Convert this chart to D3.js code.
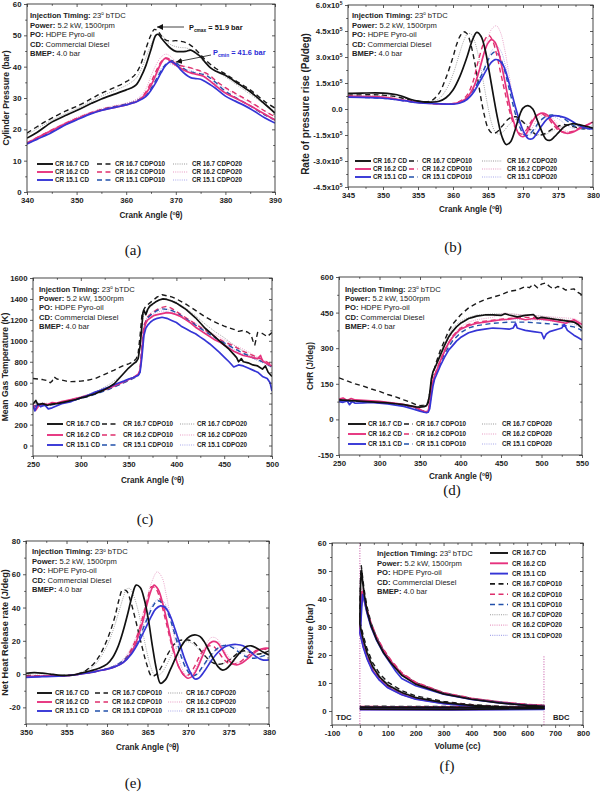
<!DOCTYPE html>
<html><head><meta charset="utf-8">
<script src="https://cdn.jsdelivr.net/npm/d3@7"></script>
<style>body{margin:0;background:#fff}svg{display:block}</style>
</head><body><svg id="c" width="600" height="794"></svg>
<script>
// ---------------- DATA ----------------
const crLabels = ["CR 16.7","CR 16.2","CR 15.1"];
const fuelLabels = ["CD","CDPO10","CDPO20"];
const infoBold = ["Injection Timing:","Power:","PO:","CD:","BMEP:"];
const infoRest = [" 23"," 5.2 kW, 1500rpm"," HDPE Pyro-oil"," Commercial Diesel"," 4.0 bar"];

// (a) cylinder pressure vs crank angle
const aXTicks = [340,350,360,370,380,390];
const aYTicks = [0,10,20,30,40,50,60];
const a_167cd = [[340,17.2],[342,19],[345,22.3],[348,24.6],[350,26],[353,28.3],[355,29.7],[358,31.4],[360,32.6],[361,33.2],[362,34.2],[363,36.8],[364,40.5],[365,45.5],[366,50.1],[366.5,50.3],[367,49.3],[368,47.4],[369,45.8],[370,44.9],[371,44.8],[372,44.9],[373,45.3],[374,44.4],[375,43.2],[376,41.3],[377,39.6],[378,38.6],[380,37.3],[382,35.2],[385,32],[388,28],[390,25.2]];
const a_167p10 = [[340,18.8],[343,21.8],[345,23.6],[348,26],[350,27.3],[353,29.8],[355,31.5],[358,33.6],[360,35.2],[361,36.3],[362,37.9],[363,41],[364,45.9],[365,50.1],[365.7,51.9],[366.5,51.2],[367,50],[368,48.5],[369,48.2],[370,48.3],[371,48.1],[372,47.7],[373,46.8],[374,45.5],[375,43.8],[376,42.1],[378,39.5],[380,37.7],[382,35.6],[385,32.6],[388,28.8],[390,26.8]];
const a_167p20 = [[340,18.2],[345,22.9],[350,26.6],[355,30.6],[358,32.6],[360,34],[361,35],[362,36.3],[363,39],[364,43],[365,47],[366,50],[366.7,50.4],[367.5,49.5],[368,48.3],[369,47],[370,46.4],[371,46.1],[372,46],[373,45.4],[374,44.2],[375,42.6],[376,41],[378,38.7],[380,36.7],[385,31.2],[390,25.6]];
const a_162cd = [[340,15.4],[342,17.2],[345,19.6],[348,22],[350,23.3],[353,25.2],[355,26.1],[358,27.1],[360,27.8],[362,28.8],[363,29.8],[364,31.5],[365,34],[366,37.5],[367,41],[367.8,42.6],[368.5,42.3],[369.5,41],[370.5,40],[372,38.6],[373,38],[374,37.6],[375.5,37],[377,35.3],[378,34],[380,31.6],[382,30],[385,27.5],[388,24.8],[390,23]];
const a_162p10 = [[340,15.7],[345,19.8],[350,23.5],[355,26.4],[358,27.4],[360,28],[362,29],[363,30],[364,32],[365,35],[366,38.5],[367,41.5],[368,42.8],[369,42.2],[370,41],[371,40.3],[372,40],[373,39.6],[374,39.1],[375,38.6],[376,38],[377,37],[378,35.6],[380,33.3],[382,31.5],[385,28.8],[388,25.8],[390,24]];
const a_162p20 = [[340,15.9],[345,20],[350,23.8],[355,26.6],[360,28.4],[362,29.6],[363,30.8],[364,33],[365,37],[366,40.5],[367,43],[368,44],[369,43.2],[370,41.6],[371,40.6],[372,40],[373,39.5],[374,39.1],[375,38.5],[376,37.6],[378,35.2],[380,33],[385,28.5],[390,24]];
const a_151cd = [[340,15.3],[342,16.8],[345,19],[348,21.6],[350,23],[353,25],[355,26],[358,27.1],[360,27.8],[362,28.7],[363,29.5],[364,30.5],[365,32.5],[366,35],[367,38],[368,40.5],[369,41.6],[370,40.8],[371,39],[372,37.5],[373,36.5],[374,36.2],[375,36],[376,35.2],[377,34.2],[378,33.1],[380,30.6],[382,29],[385,26.6],[388,23.6],[390,22]];
const a_151p10 = [[340,15.5],[345,19.3],[350,23.2],[355,26.2],[360,28],[362,29],[363,29.8],[364,30.8],[365,33],[366,35.8],[367,38.6],[368,40.8],[369,42],[370,41.3],[371,40],[372,39],[373,38.3],[374,38],[375,37.7],[376,37.3],[377,36.3],[378,35],[380,32.2],[382,30.2],[385,27.5],[388,24.5],[390,23]];
const a_151p20 = [[340,15.6],[345,19.5],[350,23.4],[355,26.3],[360,28.2],[362,29.3],[363,30.3],[364,31.5],[365,33.8],[366,36.7],[367,39.3],[367.8,40.6],[368.5,41],[369.5,40.5],[370.5,39.8],[371.5,39.3],[373,38.8],[374,38.2],[375,37.2],[376,36.3],[378,34.5],[380,32],[385,27.5],[390,23.1]];

// (b) rate of pressure rise, in units of 1e5 Pa/deg
const bXTicks = [345,350,355,360,365,370,375,380];
const bYTicks = [-4.5,-3.0,-1.5,0,1.5,3.0,4.5,6.0];
const b_167cd = [[345,0.9],[347,0.92],[350,0.92],[352,0.82],[354,0.55],[355,0.45],[356,0.4],[357,0.4],[358,0.45],[359,0.65],[360,1.1],[361,1.9],[362,3.0],[362.8,4.0],[363.4,4.42],[364,4.2],[364.6,3.4],[365.2,2.1],[365.8,0.7],[366.4,-0.6],[367,-1.6],[367.6,-2.05],[368.2,-1.9],[368.8,-1.3],[369.4,-0.5],[370,0.05],[370.7,0.2],[371.4,0.0],[372,-0.6],[372.7,-1.3],[373.3,-1.75],[373.9,-1.8],[374.5,-1.6],[375.2,-1.3],[376,-1.0],[377,-0.85],[378,-0.9],[379,-1.0],[380,-1.1]];
const b_167p10 = [[345,0.8],[348,0.82],[350,0.8],[352,0.7],[354,0.5],[355,0.45],[356,0.42],[357,0.5],[358,0.9],[359,1.8],[360,3.0],[360.5,3.7],[361,4.2],[361.5,4.45],[362,4.35],[362.5,3.8],[363,2.9],[363.5,1.8],[364,0.6],[364.5,-0.4],[365,-1.1],[365.6,-1.4],[366.2,-1.35],[367,-1.0],[368,-0.55],[369,-0.45],[370,-0.75],[371,-1.2],[372,-1.5],[373,-1.45],[374,-1.2],[375,-1.0],[376,-0.9],[377,-1.0],[378,-1.1],[379,-1.15],[380,-1.1]];
const b_167p20 = [[345,0.8],[350,0.78],[353,0.62],[355,0.45],[357,0.45],[358,0.6],[359,1.1],[360,2.0],[361,3.3],[361.5,3.9],[362,4.3],[362.5,4.35],[363,4.0],[363.5,3.3],[364,2.3],[364.5,1.2],[365,0.1],[365.5,-0.8],[366,-1.3],[366.5,-1.45],[367.2,-1.3],[368,-0.9],[369,-0.6],[370,-0.7],[371,-1.1],[372,-1.45],[373,-1.5],[374,-1.3],[376,-0.95],[378,-1.0],[380,-1.1]];
const b_162cd = [[345,0.75],[348,0.72],[350,0.68],[353,0.5],[355,0.38],[357,0.32],[359,0.28],[360,0.3],[361,0.4],[362,0.65],[363,1.3],[363.8,2.3],[364.5,3.3],[365,3.8],[365.5,4.0],[366,3.85],[366.5,3.3],[367,2.4],[367.5,1.4],[368,0.4],[368.5,-0.5],[369,-1.1],[369.5,-1.5],[370,-1.6],[370.5,-1.4],[371,-1.0],[371.7,-0.5],[372.5,-0.25],[373.3,-0.3],[374,-0.6],[374.8,-1.0],[375.5,-1.3],[376.2,-1.4],[377,-1.35],[378,-1.15],[379,-0.95],[380,-0.75]];
const b_162p10 = [[345,0.72],[350,0.65],[355,0.38],[358,0.3],[360,0.32],[361,0.45],[362,0.8],[362.8,1.5],[363.5,2.6],[364.2,3.6],[364.7,4.1],[365.1,4.25],[365.6,4.0],[366.2,3.2],[366.8,2.1],[367.4,1.0],[368,0.0],[368.6,-0.8],[369.2,-1.3],[369.8,-1.45],[370.5,-1.2],[371.2,-0.7],[372,-0.35],[372.8,-0.3],[373.5,-0.5],[374.3,-0.9],[375,-1.2],[376,-1.35],[377,-1.3],[378,-1.1],[379,-0.95],[380,-0.8]];
const b_162p20 = [[345,0.72],[350,0.65],[355,0.38],[358,0.3],[360,0.32],[361,0.42],[362,0.7],[363,1.4],[364,2.6],[364.8,3.8],[365.5,4.6],[366.2,4.8],[366.8,4.4],[367.4,3.4],[368,2.0],[368.6,0.6],[369.2,-0.6],[369.8,-1.3],[370.5,-1.45],[371.3,-1.1],[372,-0.6],[373,-0.3],[374,-0.45],[375,-0.9],[376,-1.25],[377,-1.3],[378,-1.15],[380,-0.8]];
const b_151cd = [[345,0.68],[348,0.66],[350,0.62],[353,0.48],[355,0.37],[357,0.32],[360,0.28],[361,0.35],[362,0.55],[363,1.0],[364,1.7],[365,2.4],[365.5,2.7],[366,2.85],[366.6,2.8],[367.2,2.5],[367.8,1.8],[368.4,0.9],[369,0.0],[369.6,-0.8],[370.2,-1.4],[370.8,-1.72],[371.4,-1.7],[372,-1.4],[372.7,-0.95],[373.4,-0.6],[374.2,-0.4],[375,-0.4],[376,-0.5],[377,-0.7],[378,-0.95],[379,-1.1],[380,-1.15]];
const b_151p10 = [[345,0.68],[350,0.62],[355,0.37],[360,0.3],[361,0.38],[362,0.65],[363,1.15],[364,1.9],[365,2.8],[365.5,3.15],[366,3.3],[366.5,3.15],[367.1,2.6],[367.7,1.7],[368.3,0.7],[369,-0.4],[369.6,-1.1],[370.2,-1.5],[370.8,-1.5],[371.5,-1.2],[372.2,-0.8],[373,-0.5],[374,-0.35],[375,-0.4],[376,-0.6],[377,-0.9],[378,-1.1],[379,-1.15],[380,-1.1]];
const b_151p20 = [[345,0.7],[350,0.63],[355,0.38],[360,0.3],[361,0.38],[362,0.6],[363,1.1],[364,1.9],[365,2.9],[365.7,3.45],[366.3,3.6],[366.9,3.3],[367.5,2.5],[368.1,1.4],[368.8,0.2],[369.5,-0.8],[370.2,-1.35],[371,-1.5],[371.8,-1.15],[372.6,-0.7],[373.5,-0.45],[374.5,-0.45],[375.5,-0.7],[376.5,-1.0],[377.5,-1.15],[378.5,-1.1],[380,-0.95]];

// (c) mean gas temperature
const cXTicks = [250,300,350,400,450,500];
const cYTicks = [0,200,400,600,800,1000,1200,1400,1600];
const c_167cd = [[250,395],[253,430],[255,390],[260,400],[265,385],[270,395],[275,400],[280,410],[285,420],[290,430],[295,440],[300,455],[305,465],[310,480],[315,495],[320,515],[325,535],[330,560],[335,590],[340,640],[345,690],[350,740],[355,780],[358,800],[360,830],[362,950],[364,1150],[365,1270],[366,1290],[368,1250],[370,1300],[372,1330],[375,1350],[378,1370],[382,1390],[386,1400],[390,1395],[395,1380],[400,1360],[405,1330],[410,1300],[415,1260],[420,1220],[425,1170],[430,1120],[435,1080],[440,1040],[445,1000],[450,960],[455,920],[460,870],[463,840],[465,800],[468,830],[470,800],[475,790],[480,770],[485,760],[490,730],[493,760],[496,700],[500,660]];
const c_167p10 = [[250,640],[255,635],[260,630],[265,620],[268,600],[270,615],[272,655],[275,635],[280,625],[285,615],[290,610],[295,612],[300,615],[305,620],[310,630],[315,640],[320,660],[325,680],[330,700],[335,720],[340,745],[345,765],[350,780],[355,800],[358,830],[360,880],[362,1050],[364,1250],[366,1300],[368,1330],[372,1360],[376,1390],[380,1420],[385,1440],[390,1430],[395,1420],[400,1400],[410,1350],[420,1290],[430,1230],[440,1180],[450,1140],[460,1110],[465,1090],[470,1100],[475,1080],[478,1060],[480,1000],[482,960],[485,1080],[490,1070],[495,1040],[500,1080]];
const c_167p20 = [[250,400],[260,405],[270,400],[280,415],[290,440],[300,465],[310,495],[320,535],[330,585],[340,650],[350,740],[355,790],[360,830],[362,950],[364,1150],[366,1270],[370,1300],[375,1340],[380,1380],[385,1400],[390,1400],[400,1370],[410,1310],[420,1240],[430,1160],[440,1090],[450,1030],[460,960],[470,900],[480,840],[490,800],[500,760]];
const c_162cd = [[250,390],[253,340],[256,380],[260,400],[265,390],[270,410],[275,405],[280,420],[285,430],[290,440],[295,450],[300,460],[305,475],[310,485],[315,505],[320,520],[325,535],[330,550],[335,570],[340,590],[345,610],[350,630],[355,650],[360,680],[362,720],[364,900],[366,1100],[368,1170],[370,1200],[373,1220],[376,1240],[380,1250],[385,1260],[390,1270],[395,1265],[400,1250],[405,1230],[410,1200],[415,1170],[420,1130],[425,1100],[430,1070],[435,1040],[440,1010],[445,990],[450,960],[455,930],[460,900],[465,880],[470,860],[475,850],[480,840],[485,830],[488,860],[490,810],[495,780],[500,760]];
const c_162p10 = [[250,380],[260,385],[270,395],[280,410],[290,430],[300,455],[310,480],[320,510],[330,545],[340,585],[350,625],[360,670],[362,720],[364,950],[366,1150],[370,1230],[375,1270],[380,1300],[385,1320],[390,1330],[395,1310],[400,1280],[410,1220],[420,1160],[430,1100],[440,1040],[450,990],[460,950],[470,900],[480,860],[490,820],[500,770]];
const c_162p20 = [[250,385],[260,395],[270,400],[280,415],[290,435],[300,460],[310,485],[320,515],[330,550],[340,590],[350,630],[360,675],[362,730],[364,960],[366,1160],[370,1240],[375,1280],[380,1300],[385,1310],[390,1300],[395,1290],[400,1270],[410,1220],[420,1170],[430,1110],[440,1060],[450,1010],[460,960],[470,920],[480,870],[490,820],[500,780]];
const c_151cd = [[250,380],[252,330],[255,400],[258,370],[262,390],[266,350],[270,360],[275,380],[280,400],[285,410],[290,420],[295,440],[300,455],[305,470],[310,490],[315,510],[320,525],[325,545],[330,560],[335,580],[340,600],[345,615],[350,635],[355,650],[360,670],[362,700],[364,850],[366,1050],[368,1120],[370,1150],[373,1180],[376,1200],[380,1215],[385,1225],[390,1215],[395,1195],[400,1175],[405,1140],[410,1115],[415,1090],[420,1068],[425,1035],[430,1005],[435,970],[440,930],[445,890],[450,845],[455,800],[460,750],[465,770],[470,760],[475,740],[480,720],[485,700],[490,660],[495,640],[498,600],[500,520]];
const c_151p10 = [[250,375],[260,380],[270,390],[280,405],[290,425],[300,450],[310,475],[320,505],[330,540],[340,580],[350,620],[360,665],[362,710],[364,930],[366,1130],[370,1220],[375,1260],[380,1290],[385,1305],[390,1300],[395,1290],[400,1270],[410,1210],[420,1150],[430,1090],[440,1030],[450,980],[460,930],[470,880],[480,840],[490,800],[500,750]];
const c_151p20 = [[250,380],[260,385],[270,392],[280,408],[290,428],[300,452],[310,478],[320,508],[330,542],[340,582],[350,622],[360,668],[362,715],[364,940],[366,1140],[370,1225],[375,1255],[380,1275],[385,1285],[390,1280],[395,1270],[400,1250],[410,1200],[420,1140],[430,1080],[440,1020],[450,970],[460,920],[470,870],[480,830],[490,790],[500,745]];

// (d) cumulative heat release
const dXTicks = [250,300,350,400,450,500,550];
const dYTicks = [-150,0,150,300,450,600];
const d_167cd = [[250,82],[260,80],[270,78],[280,76],[290,74],[300,72],[310,70],[320,66],[330,62],[340,56],[345,53],[350,52],[355,54],[358,58],[360,70],[362,110],[364,170],[366,200],[368,215],[370,230],[375,270],[380,310],[385,345],[390,370],[395,390],[400,405],[405,415],[410,425],[415,430],[420,435],[430,440],[440,440],[450,438],[455,445],[460,440],[470,432],[480,438],[490,442],[495,425],[500,430],[510,425],[520,420],[530,415],[540,410],[545,400],[550,385]];
const d_167p10 = [[250,175],[260,162],[270,150],[280,140],[290,128],[300,118],[310,105],[320,95],[330,82],[340,70],[345,62],[350,58],[355,60],[358,62],[360,75],[362,110],[365,180],[370,240],[375,290],[380,330],[385,370],[390,400],[395,420],[400,440],[410,470],[420,490],[430,505],[440,515],[450,525],[460,540],[470,545],[480,560],[485,555],[490,570],[495,555],[500,570],[505,575],[510,560],[515,550],[520,560],[525,555],[530,545],[540,550],[545,535],[550,525]];
const d_167p20 = [[250,80],[270,78],[290,74],[310,70],[330,62],[345,55],[355,55],[360,70],[362,105],[365,185],[370,235],[380,320],[390,385],[400,415],[410,430],[420,440],[440,445],[460,445],[480,440],[500,435],[520,425],[540,415],[550,390]];
const d_162cd = [[250,85],[255,90],[260,80],[265,88],[270,82],[280,80],[290,78],[300,76],[310,72],[320,68],[330,62],[340,55],[345,50],[350,42],[355,32],[358,30],[360,35],[362,60],[364,120],[366,160],[368,185],[370,200],[375,245],[380,285],[385,320],[390,345],[395,365],[400,380],[410,395],[420,405],[430,410],[440,415],[450,420],[460,422],[470,428],[480,420],[490,425],[500,422],[510,418],[520,412],[530,405],[540,420],[545,410],[550,400]];
const d_162p10 = [[250,80],[270,78],[290,75],[310,70],[330,62],[345,50],[355,35],[358,32],[360,40],[362,70],[365,150],[370,205],[380,290],[390,350],[400,385],[410,400],[420,410],[440,418],[460,425],[480,430],[500,428],[520,420],[540,412],[550,395]];
const d_162p20 = [[250,82],[270,80],[290,76],[310,71],[330,63],[345,52],[355,36],[358,33],[360,42],[362,75],[365,155],[370,210],[380,295],[390,355],[400,390],[410,410],[420,420],[440,430],[455,450],[460,445],[480,440],[500,435],[520,430],[540,425],[550,410]];
const d_151cd = [[250,75],[255,72],[260,78],[263,62],[266,75],[270,68],[280,70],[290,72],[300,68],[310,65],[320,60],[330,55],[340,45],[345,40],[350,35],[355,30],[358,28],[360,30],[362,45],[364,95],[366,140],[368,170],[370,185],[375,225],[380,260],[385,290],[390,310],[395,330],[400,345],[410,365],[420,375],[430,380],[440,385],[450,383],[460,380],[465,385],[468,405],[470,385],[475,380],[480,375],[490,370],[500,365],[503,340],[506,360],[510,370],[520,380],[525,385],[528,400],[532,375],[540,355],[545,345],[550,335]];
const d_151p10 = [[250,78],[270,76],[290,73],[310,68],[330,60],[345,48],[355,33],[358,30],[360,36],[362,60],[365,140],[370,195],[380,275],[390,330],[400,365],[410,385],[420,395],[440,405],[460,410],[480,410],[500,405],[520,400],[540,390],[550,375]];
const d_151p20 = [[250,80],[270,78],[290,75],[310,70],[330,62],[345,50],[355,34],[358,31],[360,38],[362,65],[365,145],[370,200],[380,282],[390,340],[400,375],[410,395],[420,405],[440,415],[460,420],[480,420],[500,418],[520,412],[540,400],[550,385]];

// (e) net heat release rate
const eXTicks = [350,355,360,365,370,375,380];
const eYTicks = [-20,0,20,40,60,80];
const e_167cd = [[350,0.5],[351,0.9],[352,0.6],[353,0],[354,-0.6],[355,-0.8],[356,-0.4],[357,0.8],[358,2],[359,3.5],[360,6],[360.7,10],[361.4,17],[362,26],[362.6,37],[363.1,47],[363.6,53.5],[364.1,52],[364.6,45],[365.1,33],[365.6,17],[366.1,3],[366.6,-5.5],[367.2,-3.5],[367.8,2.5],[368.5,10],[369.2,17],[369.9,21.5],[370.5,23.3],[371,23.5],[371.5,22.5],[372,19.5],[372.6,14],[373.2,8.5],[373.7,4.5],[374.2,2.5],[374.7,3],[375.3,6],[375.9,10],[376.6,14],[377.2,16.5],[377.8,17],[378.5,15.5],[379.2,13.5],[380,11.5]];
const e_167p10 = [[350,-0.8],[352,-1],[354,-1],[355,-0.8],[356,-0.3],[357,1],[357.5,2.5],[358,4.5],[358.5,7],[359,10.5],[359.5,15],[360,20.5],[360.5,27],[361,35],[361.5,45],[361.9,50.5],[362.4,50],[362.9,44],[363.4,35],[363.9,25],[364.4,15],[364.9,6],[365.5,-1.2],[366,-0.5],[366.5,2.5],[367,7],[367.5,12],[368,16],[368.5,19],[369,20.3],[369.5,20.5],[370,20.5],[370.6,19.5],[371.2,16.5],[372,11.5],[372.6,8.5],[373.2,6.5],[374,6],[374.8,7.5],[375.5,10],[376.3,13],[377,14],[377.8,13],[378.5,12],[379.2,12.5],[380,14]];
const e_167p20 = [[350,-0.5],[353,-0.8],[355,-0.8],[356,0],[357,1.5],[358,3.5],[358.5,5.5],[359,8.5],[359.5,12.5],[360,17],[360.5,23],[361,30],[361.5,38],[362,46],[362.4,51],[362.8,51.5],[363.3,47],[363.8,39],[364.3,28],[364.8,16],[365.3,6],[365.8,0],[366.3,-0.8],[366.8,1],[367.3,5],[367.8,10],[368.3,14.5],[368.8,17.5],[369.3,19],[369.8,19.5],[370.5,18.5],[371.2,15.5],[372,11],[372.8,7.5],[373.6,6],[374.4,6.5],[375.2,9],[376,12],[376.8,13.5],[377.6,13],[378.4,12],[379.2,12.5],[380,13.5]];
const e_162cd = [[350,-1.5],[352,-1.2],[354,-1],[355,-1],[356,-0.5],[357,0.3],[358,1],[359,2],[360,3],[361,4.5],[362,7],[363,13],[363.5,18],[364,25],[364.5,33],[365,43],[365.5,51],[365.8,53.5],[366.3,51],[366.8,44],[367.3,34],[367.8,23],[368.3,13],[368.8,5],[369.4,0],[370,-2.5],[370.6,-1],[371.2,4],[371.8,11],[372.4,17],[373,19.5],[373.6,19],[374.2,15],[374.8,10],[375.4,6.5],[376,5.5],[376.6,6.5],[377.3,9],[378,12],[378.7,14.5],[379.4,15.5],[380,15.5]];
const e_162p10 = [[350,-1.2],[353,-1],[355,-1],[357,0.2],[358,1],[359,2],[360,3],[361,4.5],[362,7.5],[362.8,13],[363.4,19],[364,27],[364.5,36],[365,45],[365.5,52.5],[366,51.5],[366.5,46],[367,37],[367.5,27],[368,17],[368.5,9],[369,3],[369.6,-1],[370.2,0],[370.8,4.5],[371.4,10.5],[372,15],[372.6,17],[373.2,16.5],[373.8,13],[374.4,9],[375,6.5],[375.6,6],[376.3,7],[377,9.5],[377.8,12.5],[378.6,14.5],[379.3,15],[380,14.5]];
const e_162p20 = [[350,-1],[353,-1],[355,-0.8],[357,0.5],[358,1.2],[359,2.2],[360,3.5],[361,5.5],[362,9],[363,16],[363.7,24],[364.3,34],[364.9,45],[365.5,55],[366.2,61.5],[366.8,58],[367.3,48],[367.8,35],[368.3,22],[368.8,11],[369.3,3],[369.9,-1],[370.5,0],[371.1,5],[371.7,12],[372.3,18.5],[372.9,22],[373.5,21.5],[374.1,17.5],[374.8,12],[375.5,8],[376.2,7],[377,8.5],[377.8,11.5],[378.6,14],[379.3,15],[380,15]];
const e_151cd = [[350,-2],[352,-1.5],[354,-1.2],[355,-1],[356,-0.5],[357,0.2],[358,1],[359,2],[360,3],[361,4.5],[362,7],[363,12],[364,20],[364.5,25],[365,30],[365.5,35],[366,39],[366.6,41],[367.2,40],[367.8,35],[368.4,27],[369,18],[369.6,9],[370.2,2],[370.8,-2.8],[371.3,-2.5],[372,1.5],[372.8,7.5],[373.6,12.5],[374.4,16],[375.2,17.5],[376,17.8],[376.8,17],[377.6,14],[378.4,10.5],[379.2,8.5],[380,8.5]];
const e_151p10 = [[350,-1.5],[353,-1.2],[355,-1],[357,0.3],[358,1],[359,2],[360,3.2],[361,5],[362,8],[363,13.5],[364,22],[364.6,29],[365.2,36],[365.7,41],[366.2,44],[366.8,43],[367.4,38],[368,30],[368.6,20],[369.2,10],[369.8,3],[370.5,-1],[371.1,0],[371.8,4.5],[372.6,10],[373.4,14.5],[374.2,17],[375,17],[375.8,15],[376.6,12],[377.4,10],[378.2,9.5],[379,10.5],[380,12]];
const e_151p20 = [[350,-1.2],[353,-1],[355,-0.9],[357,0.3],[358,1.1],[359,2.2],[360,3.4],[361,5.3],[362,8.5],[363,14.5],[364,24],[364.6,31],[365.2,38],[365.8,43],[366.4,45],[367,43.5],[367.6,38],[368.2,29],[368.8,19],[369.4,9],[370,2.5],[370.6,-1],[371.3,0.5],[372,5],[372.8,10.5],[373.6,15],[374.4,17.5],[375.2,17.5],[376,15.5],[376.8,12.5],[377.6,10.5],[378.4,10],[379.2,11],[380,12.5]];

// (f) P-V loops: [volume cc, pressure bar]
const fXTicks = [-100,0,100,200,300,400,500,600,700,800];
const fYTicks = [0,10,20,30,40,50,60];
const f_167cd = [[0,0.7],[330,0.6],[660,0.8],[660,1.0],[500,1.5],[400,2.0],[300,3.0],[200,4.8],[150,6.6],[100,9.3],[70,12.2],[45,16],[25,21],[12,25.5],[4,29],[0,31],[1,40],[3,47],[6,50.3],[10,46],[15,42],[25,36],[40,30.5],[60,25.5],[85,20.8],[110,17.3],[150,12.8],[200,9.6],[300,6.1],[400,4.2],[500,2.9],[600,2.0],[660,1.7],[660,1.4],[330,1.3],[0,1.4]];
const f_167p10 = [[0,1.0],[330,0.9],[660,1.0],[660,1.2],[500,1.7],[400,2.3],[300,3.4],[200,5.4],[150,7.3],[100,10.3],[70,13.4],[45,17.4],[25,22.5],[12,27],[4,30.5],[0,32.5],[1,42],[3,49],[5,51.9],[9,48.5],[15,43.5],[25,37.5],[40,31.5],[60,26.3],[85,21.5],[110,18],[150,13.3],[200,10.1],[300,6.5],[400,4.5],[500,3.2],[600,2.3],[660,2.0],[660,1.7],[330,1.6],[0,1.7]];
const f_167p20 = [[0,0.8],[330,0.7],[660,0.9],[660,1.1],[500,1.6],[400,2.1],[300,3.2],[200,5.1],[150,7],[100,9.8],[70,12.8],[45,16.7],[25,21.8],[12,26.3],[4,29.8],[0,31.8],[1,41],[3,48],[5.5,50.8],[9,47.5],[15,43],[25,37],[40,31],[60,26],[85,21.2],[110,17.7],[150,13.1],[200,9.9],[300,6.3],[400,4.4],[500,3.1],[600,2.2],[660,1.9],[660,1.5],[330,1.4],[0,1.5]];
const f_162cd = [[0,0.6],[330,0.5],[660,0.7],[660,0.9],[500,1.3],[400,1.8],[300,2.7],[200,4.3],[150,5.9],[100,8.5],[70,11.2],[45,14.6],[25,19.2],[12,23.2],[4,26.5],[0,28],[2,32],[5,38],[8,42.6],[12,41],[18,38.5],[25,35.5],[40,30.5],[60,25.8],[85,21.3],[110,17.8],[150,13.2],[200,9.9],[300,6.3],[400,4.3],[500,3.1],[600,2.2],[660,1.8],[660,1.3],[330,1.2],[0,1.3]];
const f_162p10 = [[0,0.9],[330,0.8],[660,0.9],[660,1.1],[500,1.5],[400,2.0],[300,3.0],[200,4.6],[150,6.2],[100,8.9],[70,11.6],[45,15],[25,19.6],[12,23.6],[4,26.8],[0,28.3],[2,33],[5,39],[8.5,42.8],[12,41.8],[18,39.5],[25,36.5],[40,31.5],[60,26.6],[85,22],[110,18.4],[150,13.7],[200,10.3],[300,6.6],[400,4.6],[500,3.3],[600,2.4],[660,2.0],[660,1.6],[330,1.5],[0,1.6]];
const f_162p20 = [[0,0.7],[330,0.6],[660,0.8],[660,1.0],[500,1.4],[400,1.9],[300,2.8],[200,4.4],[150,6.0],[100,8.7],[70,11.4],[45,14.8],[25,19.4],[12,23.4],[4,26.7],[0,28.4],[2,34],[5,40.5],[7.5,44],[11,42.5],[18,39.5],[25,36.3],[40,31.2],[60,26.3],[85,21.7],[110,18.1],[150,13.4],[200,10.1],[300,6.4],[400,4.4],[500,3.2],[600,2.3],[660,1.9],[660,1.4],[330,1.3],[0,1.4]];
const f_151cd = [[0,0.5],[330,0.4],[660,0.6],[660,0.8],[500,1.2],[400,1.7],[300,2.6],[200,4.2],[150,5.8],[100,8.3],[70,11],[45,14.3],[25,18.8],[12,22.8],[4,26.2],[0,27.8],[3,31],[6,36],[9.5,41.6],[13,40.5],[18,38.5],[25,35.2],[40,30],[60,25.2],[85,20.6],[110,17],[130,14],[150,11.6],[200,9.0],[300,6.0],[400,4.1],[500,2.9],[600,2.0],[660,1.6],[660,1.2],[330,1.1],[0,1.2]];
const f_151p10 = [[0,0.8],[330,0.7],[660,0.8],[660,1.0],[500,1.4],[400,1.9],[300,2.8],[200,4.4],[150,6.0],[100,8.6],[70,11.3],[45,14.6],[25,19.1],[12,23.1],[4,26.4],[0,28],[3,32],[6,38],[9,42],[13,41],[18,39],[25,35.8],[40,30.8],[60,26],[85,21.4],[110,17.8],[150,13.1],[200,9.8],[300,6.3],[400,4.3],[500,3.1],[600,2.2],[660,1.9],[660,1.5],[330,1.4],[0,1.5]];
const f_151p20 = [[0,0.6],[330,0.5],[660,0.7],[660,0.9],[500,1.3],[400,1.8],[300,2.7],[200,4.3],[150,5.9],[100,8.5],[70,11.1],[45,14.5],[25,19],[12,23],[4,26.3],[0,27.9],[3,32],[6,37.5],[8.5,41],[12,40.3],[18,38.5],[25,35.4],[40,30.4],[60,25.6],[85,21],[110,17.4],[150,12.9],[200,9.7],[300,6.2],[400,4.2],[500,3.0],[600,2.1],[660,1.8],[660,1.3],[330,1.2],[0,1.3]];

// ---------------- STYLE ----------------
const FONT = "'Liberation Sans', Arial, Helvetica, sans-serif";
const SERIF = "'Liberation Serif', 'Times New Roman', serif";
// [cr][fuel]
const colors = [["#111111","#1a1a1a","#9a9a9a"],["#e6327e","#de2f6c","#e89cc4"],["#3535d6","#2150aa","#a8a8ea"]];
const widths = [1.7,1.4,0.9];
const dashes = [null,"5,3.5","1,1.2"];

const svg = d3.select("#c");
const defs = svg.append("defs");
defs.append("marker").attr("id","arr").attr("viewBox","0 0 10 10").attr("refX",10).attr("refY",5)
  .attr("markerWidth",6).attr("markerHeight",6).attr("markerUnits","userSpaceOnUse").attr("orient","auto")
  .append("path").attr("d","M0,0L10,5L0,10z").attr("fill","#111");

function minorTicks(dom, major, step){
  const out=[]; const lo=Math.min(dom[0],dom[1]), hi=Math.max(dom[0],dom[1]);
  for(let v=Math.ceil(lo/step)*step; v<=hi+1e-9; v+=step){ const r=+v.toFixed(6); if(!major.some(m=>Math.abs(m-r)<1e-6)) out.push(r); }
  return out;
}

function superTitle(t, before, after, size){
  t.append("tspan").text(before);
  t.append("tspan").attr("dy",-size*0.38).attr("font-size",size*0.6).text("o");
  t.append("tspan").attr("dy",size*0.38).text(after);
}

function panel(cfg){
  const x = d3.scaleLinear().domain(cfg.xd).range([cfg.L,cfg.R]);
  const y = d3.scaleLinear().domain(cfg.yd).range([cfg.B,cfg.T]);
  const g = svg.append("g");
  defs.append("clipPath").attr("id","cl"+cfg.id).append("rect")
    .attr("x",cfg.L).attr("y",cfg.T).attr("width",cfg.R-cfg.L).attr("height",cfg.B-cfg.T);
  const line = d3.line().x(d=>x(d[0])).y(d=>y(d[1])).curve(cfg.curve);
  const lg = g.append("g").attr("clip-path",`url(#cl${cfg.id})`);
  if (cfg.extra) cfg.extra(lg, x, y);
  [6,7,8,3,4,5,1,2,0].forEach(i=>{
    const cr=i%3, fu=Math.floor(i/3);
    lg.append("path").attr("d",line(cfg.series[i])).attr("fill","none")
      .attr("stroke",colors[cr][fu]).attr("stroke-width",widths[fu])
      .attr("stroke-dasharray",dashes[fu]).attr("stroke-linejoin","round");
  });
  // axes
  const xm = minorTicks(cfg.xd,cfg.xt,cfg.xms), ym = minorTicks(cfg.yd,cfg.yt,cfg.yms);
  const ax = g.append("g");
  const add=(gen,tr)=>ax.append("g").attr("transform",tr).call(gen);
  add(d3.axisBottom(x).tickValues(cfg.xt).tickSize(3).tickPadding(2.5).tickFormat(d=>String(d)),`translate(0,${cfg.B})`);
  add(d3.axisBottom(x).tickValues(xm).tickSize(1.8).tickFormat(""),`translate(0,${cfg.B})`);
  add(d3.axisBottom(x).tickValues(cfg.xt).tickSize(3).tickFormat(""),`translate(0,${cfg.T})`);
  add(d3.axisBottom(x).tickValues(xm).tickSize(1.8).tickFormat(""),`translate(0,${cfg.T})`);
  const yl = add(d3.axisLeft(y).tickValues(cfg.yt).tickSize(3).tickPadding(2.5).tickFormat(cfg.yf||(d=>String(d))),`translate(${cfg.L},0)`);
  add(d3.axisLeft(y).tickValues(ym).tickSize(1.8).tickFormat(""),`translate(${cfg.L},0)`);
  add(d3.axisLeft(y).tickValues(cfg.yt).tickSize(3).tickFormat(""),`translate(${cfg.R},0)`);
  add(d3.axisLeft(y).tickValues(ym).tickSize(1.8).tickFormat(""),`translate(${cfg.R},0)`);
  ax.selectAll(".domain").remove();
  ax.selectAll(".tick line").attr("stroke","#333").attr("stroke-width",0.8);
  ax.selectAll(".tick text").attr("font-size",7.8).attr("font-family",FONT).attr("font-weight","bold").attr("fill","#222");
  if (cfg.yExp) {
    yl.selectAll(".tick text").each(function(d){
      const t=d3.select(this); t.text(null);
      if (d===0){ t.text("0.0"); return; }
      t.append("tspan").text(d.toFixed(1)+"x10");
      t.append("tspan").attr("dy",-3).attr("font-size",5).text("5");
    });
  }
  g.append("rect").attr("x",cfg.L).attr("y",cfg.T).attr("width",cfg.R-cfg.L).attr("height",cfg.B-cfg.T)
    .attr("fill","none").attr("stroke","#333").attr("stroke-width",0.9);
  // titles
  const xt = g.append("text").attr("x",(cfg.L+cfg.R)/2).attr("y",cfg.xTitleY).attr("text-anchor","middle")
    .attr("font-family",FONT).attr("font-weight","bold").attr("font-size",8.2).attr("fill","#222");
  if (cfg.xTitle) xt.text(cfg.xTitle); else superTitle(xt,"Crank Angle (","\u03b8)",8.2);
  const yMid = cfg.yTitleMid !== undefined ? cfg.yTitleMid : (cfg.T+cfg.B)/2;
  g.append("text").attr("transform",`translate(${cfg.yTitleX},${yMid}) rotate(-90)`).attr("dy","0.35em")
    .attr("text-anchor","middle").attr("font-family",FONT).attr("font-weight","bold")
    .attr("font-size",cfg.yTitleSize).attr("fill","#222").text(cfg.yTitle);
  // info block
  infoBold.forEach((b,i)=>{
    const t = g.append("text").attr("x",cfg.info[0]).attr("y",cfg.info[1]+i*cfg.info[2])
      .attr("font-family",FONT).attr("font-size",7.6).attr("fill","#222");
    t.append("tspan").attr("font-weight","bold").text(b);
    if (i===0){ superTitle(t,"\u00a023","\u00a0bTDC",7.6); }
    else t.append("tspan").text(infoRest[i].replace(/^ /,"\u00a0"));
  });
  // legend
  const lgd = g.append("g");
  const item=(x0,x1,tx,yy,cr,fu)=>{
    lgd.append("line").attr("x1",x0).attr("x2",x1).attr("y1",yy).attr("y2",yy)
      .attr("stroke",colors[cr][fu]).attr("stroke-width",widths[fu]+0.2).attr("stroke-dasharray",dashes[fu]);
    lgd.append("text").attr("x",tx).attr("y",yy+2.3).attr("font-family",FONT).attr("font-weight","bold")
      .attr("font-size",6.3).attr("fill","#222").text(crLabels[cr]+" "+fuelLabels[fu]);
  };
  if (cfg.legendRows){
    cfg.legendRows.forEach((yy,cr)=>cfg.legendCols.forEach((c,fu)=>item(c[0],c[1],c[2],yy,cr,fu)));
  } else {
    let k=0;
    for(let fu=0;fu<3;fu++) for(let cr=0;cr<3;cr++){ item(490,508,512,553+k*10.3,cr,fu); k++; }
  }
  // panel label
  svg.append("text").attr("x",cfg.lab[0]).attr("y",cfg.lab[1]).attr("text-anchor","middle")
    .attr("font-family",SERIF).attr("font-size",15).attr("fill","#111").text(cfg.lab[2]);
  if (cfg.after) cfg.after(g,x,y);
}

const cat = d3.curveCatmullRom.alpha(0.5);

panel({id:"a",L:27,R:275,T:4,B:192,xd:[340,390],yd:[0,60],xt:aXTicks,yt:aYTicks,xms:5,yms:5,curve:cat,
  series:[a_167cd,a_162cd,a_151cd,a_167p10,a_162p10,a_151p10,a_167p20,a_162p20,a_151p20],
  xTitleY:218,yTitleX:6,yTitleSize:8.6,yTitle:"Cylinder Pressure (bar)",info:[30,18.3,9.4],
  legendRows:[164,172,180],legendCols:[[37,53,55],[97,112,115],[173,188,192]],lab:[133,255,"(a)"],
  after:(g,x,y)=>{
    g.append("line").attr("x1",184).attr("y1",27).attr("x2",157).attr("y2",27).attr("stroke","#111").attr("stroke-width",0.8).attr("marker-end","url(#arr)");
    const t1=g.append("text").attr("x",189).attr("y",29.5).attr("font-family",FONT).attr("font-weight","bold").attr("font-size",7.4).attr("fill","#111");
    t1.append("tspan").text("P"); t1.append("tspan").attr("dy",2).attr("font-size",4.8).text("cmax"); t1.append("tspan").attr("dy",-2).text(" = 51.9 bar");
    g.append("line").attr("x1",211).attr("y1",55).attr("x2",176).attr("y2",62).attr("stroke","#111").attr("stroke-width",0.8).attr("marker-end","url(#arr)");
    const t2=g.append("text").attr("x",213).attr("y",54.5).attr("font-family",FONT).attr("font-weight","bold").attr("font-size",7.4).attr("fill","#2b2bd6");
    t2.append("tspan").text("P"); t2.append("tspan").attr("dy",2).attr("font-size",4.8).text("cmin"); t2.append("tspan").attr("dy",-2).text(" = 41.6 bar");
  }});

panel({id:"b",L:348,R:593,T:5,B:187,xd:[345,380],yd:[-4.5,6.0],xt:bXTicks,yt:bYTicks,xms:2.5,yms:0.75,curve:cat,yExp:true,
  series:[b_167cd,b_162cd,b_151cd,b_167p10,b_162p10,b_151p10,b_167p20,b_162p20,b_151p20],
  xTitleY:212,yTitleX:305,yTitleSize:10,yTitleMid:104,yTitle:"Rate of pressure rise (Pa/deg)",info:[352,18.3,9.5],
  legendRows:[161,169,177],legendCols:[[355,371,373],[409,418,422],[482,502,507]],lab:[453,252,"(b)"]});

panel({id:"c",L:33,R:272,T:278,B:456,xd:[250,500],yd:[-100,1600],xt:cXTicks,yt:cYTicks,xms:25,yms:100,curve:d3.curveLinear,
  series:[c_167cd,c_162cd,c_151cd,c_167p10,c_162p10,c_151p10,c_167p20,c_162p20,c_151p20],
  xTitleY:483,yTitleX:5,yTitleSize:8.6,yTitle:"Mean Gas Temperature (K)",info:[39,291.7,9.3],
  legendRows:[424,435,445],legendCols:[[47,63,66],[102,118,123],[180,195,197]],lab:[145,524,"(c)"]});

panel({id:"d",L:339,R:582,T:277,B:455,xd:[250,550],yd:[-150,600],xt:dXTicks,yt:dYTicks,xms:25,yms:75,curve:d3.curveLinear,
  series:[d_167cd,d_162cd,d_151cd,d_167p10,d_162p10,d_151p10,d_167p20,d_162p20,d_151p20],
  xTitleY:479,yTitleX:310,yTitleSize:8.4,yTitle:"CHR (J/deg)",info:[345,291.7,9.3],
  legendRows:[424,434,444],legendCols:[[348,366,368],[404,413,416],[482,497,502]],lab:[452,495,"(d)"]});

panel({id:"e",L:26,R:269,T:541,B:724,xd:[350,380],yd:[-30,80],xt:eXTicks,yt:eYTicks,xms:2.5,yms:10,curve:cat,
  series:[e_167cd,e_162cd,e_151cd,e_167p10,e_162p10,e_151p10,e_167p20,e_162p20,e_151p20],
  xTitleY:750,yTitleX:5,yTitleSize:9.2,yTitle:"Net Heat Release rate (J/deg)",info:[32,554.4,9.5],
  legendRows:[693,702,711],legendCols:[[37,52,55],[95,108,112],[168,183,186]],lab:[133,788,"(e)"]});

panel({id:"f",L:332,R:583,T:543,B:725,xd:[-100,800],yd:[-5,60],xt:fXTicks,yt:fYTicks,xms:50,yms:5,curve:d3.curveLinear,
  series:[f_167cd,f_162cd,f_151cd,f_167p10,f_162p10,f_151p10,f_167p20,f_162p20,f_151p20],
  xTitleY:749,xTitle:"Volume (cc)",yTitleX:310,yTitleSize:9,yTitle:"Pressure (bar)",info:[377,556,9.5],
  lab:[447,771,"(f)"],
  extra:(lg,x,y)=>{
    lg.append("line").attr("x1",x(0)).attr("x2",x(0)).attr("y1",y(60)).attr("y2",y(-5)).attr("stroke","#c0409a").attr("stroke-width",0.9).attr("stroke-dasharray","1,1.5");
    lg.append("line").attr("x1",x(660)).attr("x2",x(660)).attr("y1",y(19.5)).attr("y2",y(-5)).attr("stroke","#c0409a").attr("stroke-width",0.9).attr("stroke-dasharray","1,1.5");
  },
  after:(g,x,y)=>{
    g.append("text").attr("x",336).attr("y",719.5).attr("font-family",FONT).attr("font-weight","bold").attr("font-size",7.6).attr("fill","#222").text("TDC");
    g.append("text").attr("x",553).attr("y",719.5).attr("font-family",FONT).attr("font-weight","bold").attr("font-size",7.6).attr("fill","#222").text("BDC");
  }});
</script></body></html>
